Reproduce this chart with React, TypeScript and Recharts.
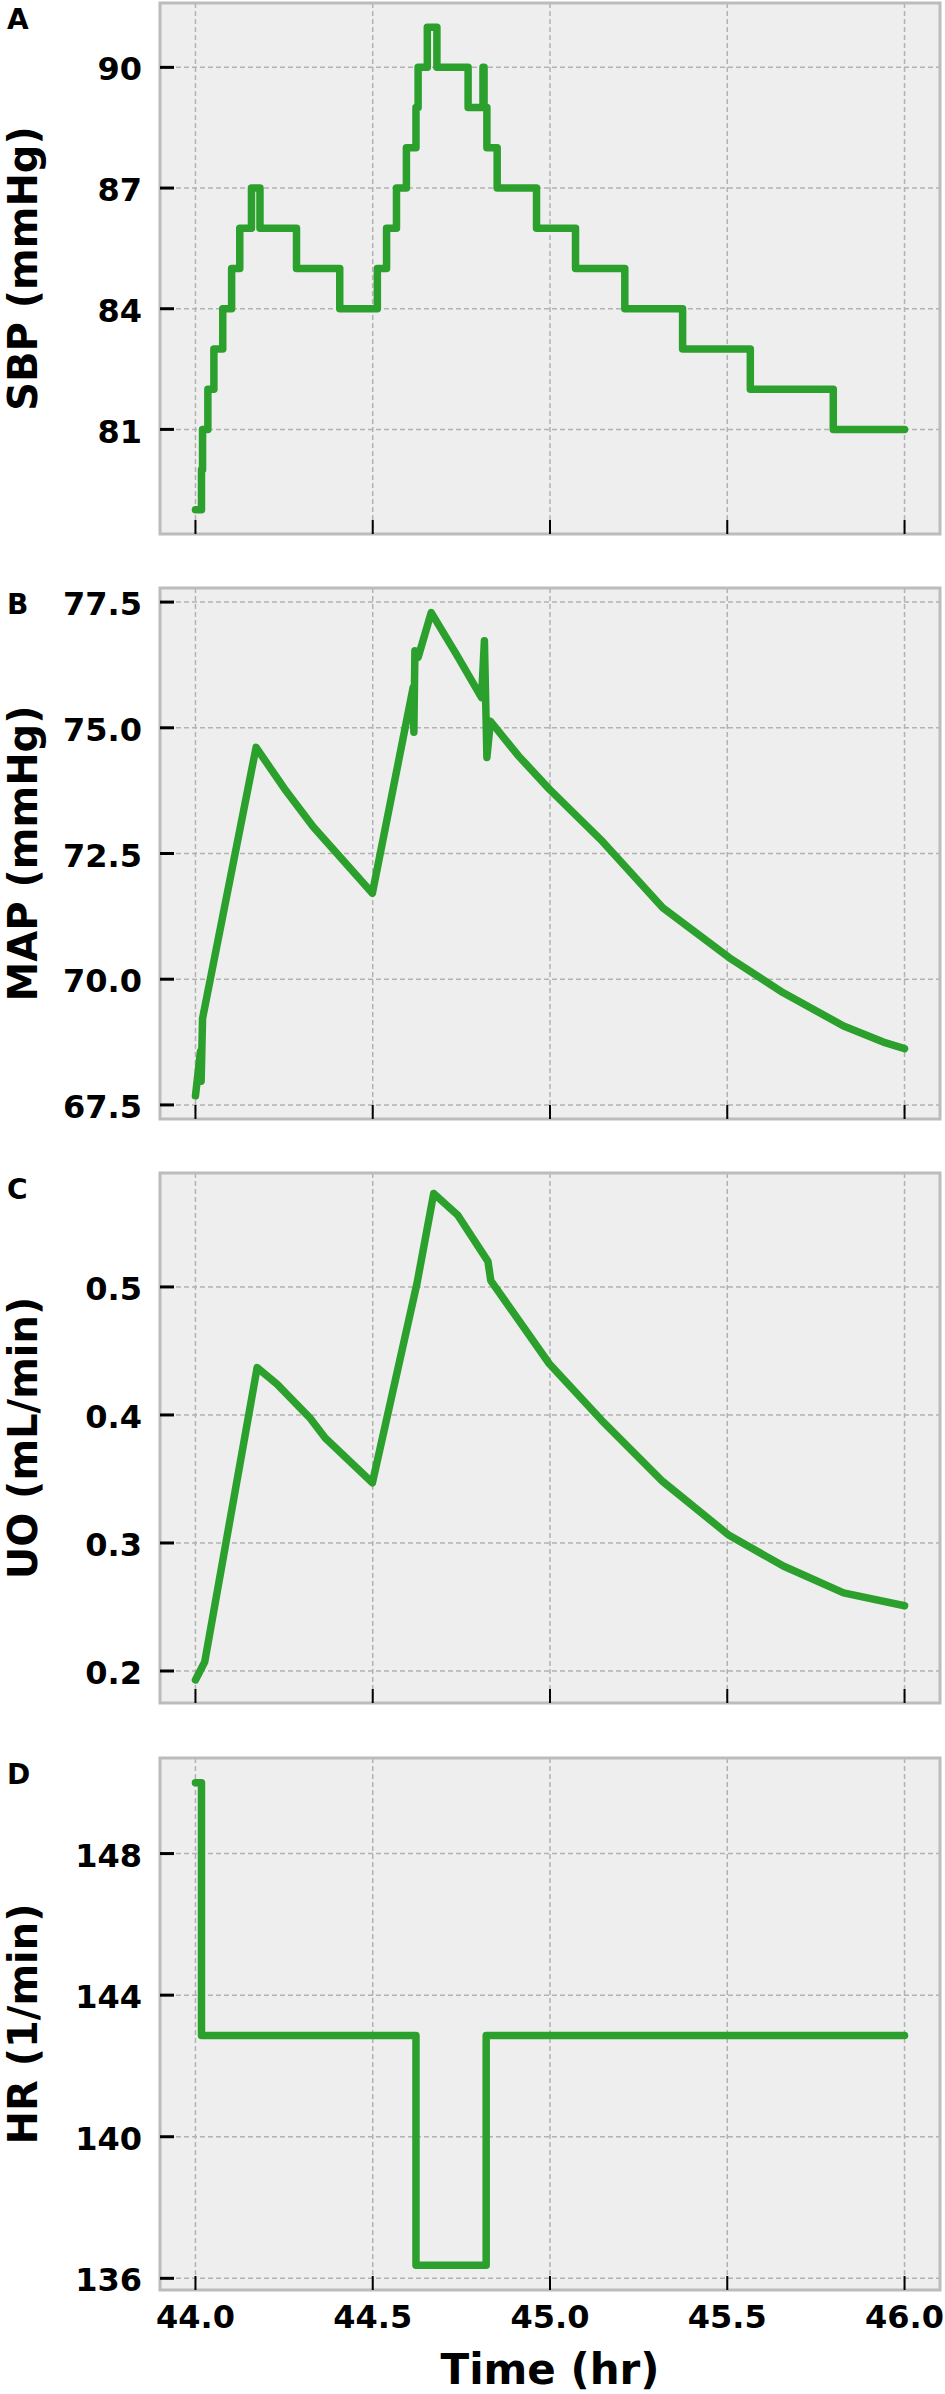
import React from "react"
import {
  LineChart,
  Line,
  XAxis,
  YAxis,
  CartesianGrid,
  ReferenceArea,
} from "recharts"

// time axis (hr)
const timeTicks = [44.0, 44.5, 45.0, 45.5, 46.0]
const timeDomain: [number, number] = [43.9, 46.1]

// A - systolic blood pressure, step changes
const sbpTime = [
  44.0, 44.017, 44.02, 44.035, 44.052, 44.077, 44.102, 44.125, 44.158, 44.182,
  44.285, 44.407, 44.513, 44.539, 44.567, 44.595, 44.622, 44.628, 44.654,
  44.681, 44.769, 44.811, 44.814, 44.822, 44.851, 44.962, 45.072, 45.211,
  45.374, 45.565, 45.799, 46.0,
]
const sbpValue = [
  79, 80, 81, 82, 83, 84, 85, 86, 87, 86, 85, 84, 85, 86, 87, 88, 89, 90, 91,
  90, 89, 90, 89, 88, 87, 86, 85, 84, 83, 82, 81, 81,
]
const sbpTicks = [81, 84, 87, 90]

// B - mean arterial pressure
const mapTime = [
  44.0, 44.014, 44.016, 44.02, 44.171, 44.25, 44.332, 44.499, 44.614, 44.616,
  44.619, 44.628, 44.665, 44.736, 44.807, 44.815, 44.822, 44.832, 44.91, 44.998,
  45.148, 45.318, 45.505, 45.658, 45.828, 45.94, 46.0,
]
const mapValue = [
  67.68, 68.56, 67.97, 69.22, 74.61, 73.8, 73.03, 71.71, 75.8, 74.91, 76.53,
  76.4, 77.29, 76.46, 75.6, 76.73, 74.41, 75.13, 74.45, 73.78, 72.74, 71.42,
  70.43, 69.73, 69.07, 68.75, 68.62,
]
const mapTicks = [67.5, 70.0, 72.5, 75.0, 77.5]

// C - urine output
const uoTime = [
  44.0, 44.026, 44.174, 44.23, 44.322, 44.366, 44.499, 44.625, 44.672, 44.74,
  44.825, 44.833, 44.998, 45.145, 45.318, 45.505, 45.658, 45.828, 46.0,
]
const uoValue = [
  0.193, 0.207, 0.437, 0.424, 0.398, 0.382, 0.347, 0.503, 0.573, 0.556, 0.52,
  0.505, 0.44, 0.396, 0.348, 0.306, 0.282, 0.261, 0.251,
]
const uoTicks = [0.2, 0.3, 0.4, 0.5]

// D - heart rate, step changes
const hrTime = [44.0, 44.017, 44.622, 44.82, 46.0]
const hrValue = [150.0, 142.86, 136.37, 142.86, 142.86]
const hrTicks = [136, 140, 144, 148]

const GREEN = "#2ca02c"
const FONT = "'DejaVu Sans', sans-serif"

const toRows = (t: number[], v: number[]) => t.map((x, i) => ({ t: x, v: v[i] }))

function YTick(props: any) {
  const { x, y, payload, digits } = props
  return (
    <g>
      <line x1={x + 18} x2={x + 32} y1={y} y2={y} stroke="#000" strokeWidth={3} />
      <text
        x={x}
        y={y}
        dy="0.41em"
        textAnchor="end"
        fontSize={32}
        fontWeight="bold"
        fontFamily={FONT}
        fill="#000"
      >
        {Number(payload.value).toFixed(digits)}
      </text>
    </g>
  )
}

function XTick(props: any) {
  const { x, y, payload, showLabel } = props
  return (
    <g>
      <line x1={x} x2={x} y1={y - 15} y2={y - 29} stroke="#000" strokeWidth={2} />
      {showLabel && (
        <text
          x={x}
          y={y}
          dy="0.71em"
          textAnchor="middle"
          fontSize={32}
          fontWeight="bold"
          fontFamily={FONT}
          fill="#000"
        >
          {Number(payload.value).toFixed(1)}
        </text>
      )}
    </g>
  )
}

function SideLabel(props: any) {
  const { viewBox, text, letter } = props
  const top = viewBox ? viewBox.y : 3
  const h = viewBox ? viewBox.height : 531
  const cy = top + h / 2
  return (
    <g>
      <text x={7} y={top + 26} fontSize={28} fontWeight="bold" fontFamily={FONT} fill="#000">
        {letter}
      </text>
      <text
        x={37}
        y={cy}
        transform={`rotate(-90 37 ${cy})`}
        textAnchor="middle"
        fontSize={40}
        fontWeight="bold"
        fontFamily={FONT}
        fill="#000"
      >
        {text}
      </text>
    </g>
  )
}

function TimeLabel(props: any) {
  const { viewBox } = props
  const cx = viewBox ? viewBox.x + viewBox.width / 2 : 550
  const y = viewBox ? viewBox.y + 94 : 2384
  return (
    <text x={cx} y={y} textAnchor="middle" fontSize={42} fontWeight="bold" fontFamily={FONT} fill="#000">
      Time (hr)
    </text>
  )
}

type PanelProps = {
  top: number
  plotHeight: number
  rows: { t: number; v: number }[]
  domain: [number, number]
  ticks: number[]
  digits: number
  step: boolean
  letter: string
  label: string
  last?: boolean
}

function Panel({ top, plotHeight, rows, domain, ticks, digits, step, letter, label, last }: PanelProps) {
  const xHeight = last ? 104 : 24
  return (
    <div style={{ position: "absolute", left: 0, top }}>
      <LineChart
        width={945}
        height={3 + plotHeight + xHeight}
        data={rows}
        margin={{ top: 3, right: 5, left: 40, bottom: 0 }}
      >
        <CartesianGrid
          fill="#eeeeee"
          stroke="#b2b2b2"
          strokeWidth={1.5}
          strokeDasharray="5 3"
        />
        <XAxis
          type="number"
          dataKey="t"
          domain={timeDomain}
          ticks={timeTicks}
          allowDataOverflow
          interval={0}
          height={xHeight}
          axisLine={false}
          tickLine={false}
          tickSize={0}
          tickMargin={15}
          tick={<XTick showLabel={!!last} />}
          label={last ? <TimeLabel /> : undefined}
        />
        <YAxis
          type="number"
          dataKey="v"
          domain={domain}
          ticks={ticks}
          allowDataOverflow
          interval={0}
          width={120}
          axisLine={false}
          tickLine={false}
          tickSize={0}
          tickMargin={18}
          tick={<YTick digits={digits} />}
          label={<SideLabel text={label} letter={letter} />}
        />
        <Line
          type={step ? "stepAfter" : "linear"}
          dataKey="v"
          stroke={GREEN}
          strokeWidth={7.5}
          strokeLinejoin="round"
          strokeLinecap="round"
          dot={false}
          isAnimationActive={false}
        />
        <ReferenceArea
          x1={timeDomain[0]}
          x2={timeDomain[1]}
          y1={domain[0]}
          y2={domain[1]}
          fill="none"
          stroke="#bcbcbc"
          strokeWidth={3}
          ifOverflow="visible"
        />
      </LineChart>
    </div>
  )
}

export default function App() {
  return (
    <div
      style={{
        position: "absolute",
        left: 0,
        top: 0,
        width: 945,
        height: 2394,
        background: "#fff",
        fontFamily: FONT,
      }}
    >
      <Panel
        top={0}
        plotHeight={531}
        rows={toRows(sbpTime, sbpValue)}
        domain={[78.4, 91.6]}
        ticks={sbpTicks}
        digits={0}
        step
        letter="A"
        label="SBP (mmHg)"
      />
      <Panel
        top={585}
        plotHeight={531}
        rows={toRows(mapTime, mapValue)}
        domain={[67.22, 77.78]}
        ticks={mapTicks}
        digits={1}
        step={false}
        letter="B"
        label="MAP (mmHg)"
      />
      <Panel
        top={1170}
        plotHeight={530}
        rows={toRows(uoTime, uoValue)}
        domain={[0.175, 0.589]}
        ticks={uoTicks}
        digits={1}
        step={false}
        letter="C"
        label="UO (mL/min)"
      />
      <Panel
        top={1755}
        plotHeight={532}
        rows={toRows(hrTime, hrValue)}
        domain={[135.67, 150.7]}
        ticks={hrTicks}
        digits={0}
        step
        letter="D"
        label="HR (1/min)"
        last
      />
    </div>
  )
}
